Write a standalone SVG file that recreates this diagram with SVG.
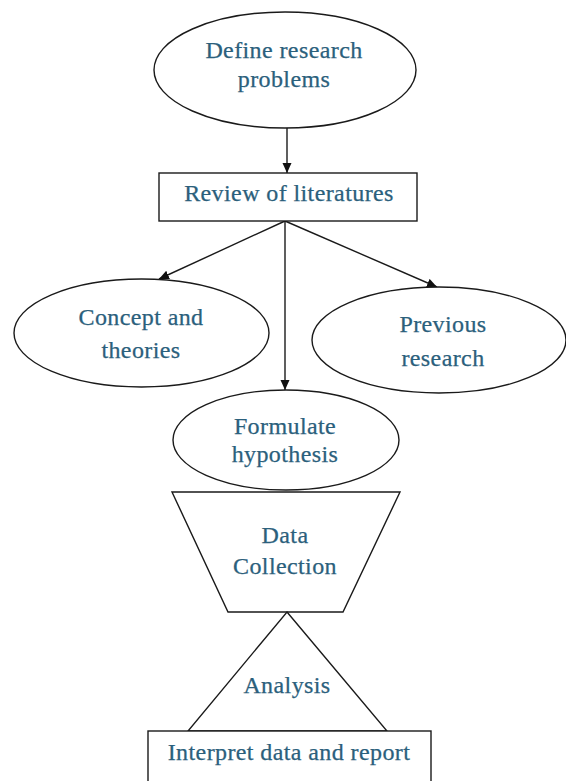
<svg xmlns="http://www.w3.org/2000/svg" width="566" height="781" viewBox="0 0 566 781">
<defs>
<style>
.s{fill:#fff;stroke:#1a1a1a;stroke-width:1.4}
.l{fill:none;stroke:#1a1a1a;stroke-width:1.4}
.t{font-family:"Liberation Serif","Times New Roman",serif;font-size:24px;letter-spacing:0.4px;fill:#2b607c;stroke:#2b607c;stroke-width:0.25;text-anchor:middle}
</style>
<marker id="ah" viewBox="0 0 10 10" refX="10" refY="5" markerWidth="10" markerHeight="10" markerUnits="userSpaceOnUse" orient="auto">
<path d="M0,0.5 L10,5 L0,9.5 Z" fill="#111"/>
</marker>
</defs>
<rect width="566" height="781" fill="#fff"/>
<g id="connectors">
<line class="l" x1="287" y1="128" x2="287" y2="173" marker-end="url(#ah)"/>
<line class="l" x1="285" y1="221" x2="159" y2="279" marker-end="url(#ah)"/>
<line class="l" x1="285" y1="221" x2="437" y2="287" marker-end="url(#ah)"/>
<line class="l" x1="285" y1="221" x2="285" y2="390" marker-end="url(#ah)"/>
</g>
<g id="define">
<ellipse class="s" cx="285" cy="70" rx="131" ry="58"/>
<text class="t" x="284" y="58">Define research</text>
<text class="t" x="284" y="87">problems</text>
</g>
<g id="review">
<rect class="s" x="159" y="173" width="258" height="48"/>
<text class="t" x="289" y="201">Review of literatures</text>
</g>
<g id="concept">
<ellipse class="s" cx="141.5" cy="333" rx="127.5" ry="54"/>
<text class="t" x="141" y="325">Concept and</text>
<text class="t" x="141" y="358">theories</text>
</g>
<g id="previous">
<ellipse class="s" cx="439" cy="340" rx="127" ry="53"/>
<text class="t" x="443" y="332">Previous</text>
<text class="t" x="443" y="366">research</text>
</g>
<g id="formulate">
<ellipse class="s" cx="286" cy="440" rx="113" ry="50"/>
<text class="t" x="285" y="434">Formulate</text>
<text class="t" x="285" y="462">hypothesis</text>
</g>
<g id="data">
<polygon class="s" points="172,492 400,492 343,612 228,612"/>
<text class="t" x="285" y="543">Data</text>
<text class="t" x="285" y="574">Collection</text>
</g>
<g id="analysis">
<polygon class="s" points="287,612 387,731 188,731"/>
<text class="t" x="287" y="693">Analysis</text>
</g>
<g id="interpret">
<rect class="s" x="148" y="731" width="283" height="60"/>
<text class="t" x="289" y="760">Interpret data and report</text>
</g>
</svg>
